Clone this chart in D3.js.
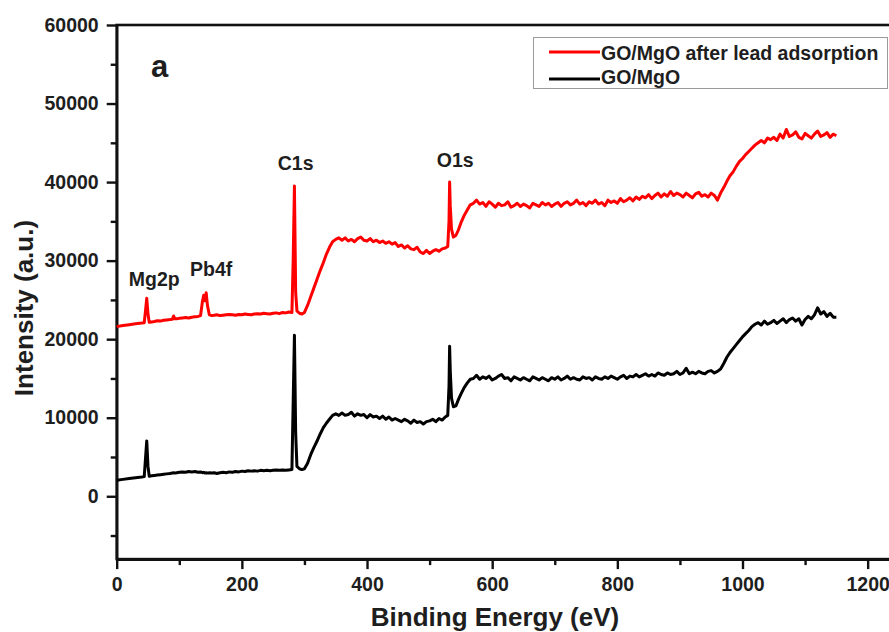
<!DOCTYPE html>
<html>
<head>
<meta charset="utf-8">
<script src="https://cdn.jsdelivr.net/npm/d3@7"></script>
<style>
  html, body { margin: 0; padding: 0; background: #fff; }
  svg { display: block; font-family: "Liberation Sans", Arial, sans-serif; }
</style>
</head>
<body>
<svg id="chart" width="889" height="632"></svg>
<script>
// XPS survey spectra: [binding energy (eV), intensity (a.u.)]
const afterAdsorption = [
  [0,21600],[10,21750],[20,21850],[30,21950],[40,22050],
  [44,22100],[46,23600],[48,25200],[50,23200],[52,22150],
  [56,22200],[60,22250],[65,22350],[70,22300],[75,22400],[80,22450],[85,22500],[89,22550],[91,22950],[93,22600],[96,22600],
  [100,22650],[105,22700],[110,22750],[115,22700],[120,22800],[125,22850],[130,22900],
  [134,23000],[137,24800],[139,25600],[141,24900],[143,25900],[145,24300],[148,23100],
  [152,23000],[156,23050],
  [160,23100],[165,23000],[170,23050],[175,23100],[180,23150],[185,23100],[190,23050],[195,23150],[200,23100],[205,23200],
  [210,23150],[215,23100],[220,23200],[225,23250],[230,23200],[235,23300],[240,23250],[245,23200],[250,23300],[255,23350],
  [260,23250],[265,23400],[270,23350],[275,23450],[280,23400],
  [282,30000],[284,39500],[286,26000],[288,23600],[292,23300],[296,23200],
  [300,23400],[305,24300],[310,25400],[315,26500],[320,27600],[325,28700],[330,29700],[335,30800],[340,31700],[345,32400],
  [350,32700],[355,32900],[360,32600],[365,32900],[370,32500],[375,32700],[380,32400],[385,32800],[390,33000],[395,32600],
  [400,32500],[405,32800],[410,32400],[415,32600],[420,32300],[425,32500],[430,32200],[435,32400],[440,32100],[445,32300],
  [450,31800],[455,32000],[460,31600],[465,31900],[470,31500],[475,31400],[480,31700],[485,31100],[490,30900],[495,31300],
  [500,30900],[505,31200],[510,31400],[515,31200],[520,31500],[525,31600],
  [529,31800],[531,35000],[532,40000],[533,37000],[535,34000],[538,33000],[542,33200],[546,33900],
  [550,34800],[555,35700],[560,36400],[565,37100],[570,37300],[575,37700],[580,37200],[585,37400],[590,36900],[595,37500],
  [600,37200],[605,36800],[610,37300],[615,37000],[620,37100],[625,37500],[630,36800],[635,37000],[640,37300],[645,36900],
  [650,37200],[655,37000],[660,36700],[665,37300],[670,37100],[675,36900],[680,37400],[685,37100],[690,37300],[695,36900],
  [700,37200],[705,37400],[710,36900],[715,37300],[720,37500],[725,37100],[730,37300],[735,37700],[740,37200],[745,37400],
  [750,37000],[755,37500],[760,37300],[765,37700],[770,37200],[775,37400],[780,37000],[785,37700],[790,37400],[795,37600],
  [800,37300],[805,37900],[810,37500],[815,37700],[820,38000],[825,37600],[830,38100],[835,37800],[840,38200],[845,38000],
  [850,38400],[855,37900],[860,38300],[865,38600],[870,38100],[875,38500],[880,38200],[885,38800],[890,38300],[895,38600],
  [900,38400],[905,38100],[910,38600],[915,38300],[920,38000],[925,38500],[930,38700],[935,38200],[940,38400],[945,38100],
  [950,38600],[955,38300],[960,37700],[965,38600],[970,39300],[975,40100],[980,40800],[985,41300],[990,42000],[995,42600],
  [1000,43000],[1005,43500],[1010,43900],[1015,44300],[1020,44700],[1025,45000],[1030,45300],[1035,45000],[1040,45600],[1045,45400],
  [1050,45700],[1055,45300],[1060,46100],[1065,45600],[1070,46700],[1075,45800],[1080,46000],[1085,46400],[1090,45700],[1095,45500],
  [1100,46200],[1105,45900],[1110,45600],[1115,46100],[1120,46500],[1125,45800],[1130,46000],[1135,46300],[1140,45700],[1145,46100],
  [1150,45900]
];

const pristine = [
  [0,2040],[10,2150],[20,2250],[30,2350],[40,2450],
  [44,2500],[46,4800],[48,7050],[50,3800],[52,2550],
  [56,2600],[60,2650],[65,2700],[70,2750],[75,2800],[80,2850],[85,2900],[89,2950],[91,3000],[93,2950],[96,3000],
  [100,3050],[105,3100],[110,3050],[115,3150],[120,3100],[125,3150],[130,3050],
  [134,3100],[137,3000],[139,3050],[141,2950],[143,3000],[145,2950],[148,3000],
  [152,2950],[156,3000],
  [160,2900],[165,3000],[170,3050],[175,3000],[180,3100],[185,3050],[190,3150],[195,3100],[200,3200],[205,3150],
  [210,3250],[215,3200],[220,3250],[225,3200],[230,3300],[235,3250],[240,3300],[245,3250],[250,3300],[255,3350],
  [260,3300],[265,3350],[270,3300],[275,3350],[280,3400],
  [282,12000],[284,20500],[286,8000],[288,3800],[292,3500],[296,3400],
  [300,3500],[305,4200],[310,5300],[315,6200],[320,7000],[325,7900],[330,8700],[335,9300],[340,9800],[345,10300],
  [350,10500],[355,10300],[360,10600],[365,10300],[370,10400],[375,10700],[380,10200],[385,10500],[390,10300],[395,10400],
  [400,10000],[405,10400],[410,10100],[415,10200],[420,9900],[425,10200],[430,9800],[435,10100],[440,9700],[445,9900],
  [450,9700],[455,9500],[460,9800],[465,9600],[470,9300],[475,9700],[480,9400],[485,9500],[490,9200],[495,9500],
  [500,9600],[505,9800],[510,9500],[515,9900],[520,9700],[525,10100],
  [529,10300],[531,14000],[532,19100],[533,16000],[535,12500],[538,11400],[542,11500],[546,12300],
  [550,13000],[555,13800],[560,14400],[565,14900],[570,15000],[575,15400],[580,14900],[585,15200],[590,15000],[595,15300],
  [600,14800],[605,15000],[610,15300],[615,15500],[620,15000],[625,15100],[630,14700],[635,15200],[640,15000],[645,14800],
  [650,15100],[655,14900],[660,14700],[665,15200],[670,15000],[675,14800],[680,15100],[685,14900],[690,14700],[695,15100],
  [700,14900],[705,15200],[710,14800],[715,15000],[720,15300],[725,14900],[730,15100],[735,14900],[740,14800],[745,15200],
  [750,15000],[755,15100],[760,14800],[765,15200],[770,15000],[775,14900],[780,15200],[785,15000],[790,15300],[795,15100],
  [800,14900],[805,15200],[810,15400],[815,15000],[820,15300],[825,15200],[830,15500],[835,15200],[840,15400],[845,15600],
  [850,15300],[855,15500],[860,15300],[865,15700],[870,15500],[875,15400],[880,15700],[885,15500],[890,15600],[895,15900],
  [900,15500],[905,15700],[910,16300],[915,15600],[920,15800],[925,15600],[930,15900],[935,15700],[940,15600],[945,15900],
  [950,16000],[955,15700],[960,15900],[965,16200],[970,16900],[975,17700],[980,18300],[985,18800],[990,19300],[995,19800],
  [1000,20300],[1005,20700],[1010,21100],[1015,21600],[1020,21900],[1025,22100],[1030,21800],[1035,22300],[1040,21900],[1045,22100],
  [1050,22400],[1055,22000],[1060,22300],[1065,22600],[1070,22100],[1075,22500],[1080,22700],[1085,22300],[1090,22600],[1095,21800],
  [1100,22500],[1105,22900],[1110,22600],[1115,23100],[1120,24000],[1125,23200],[1130,23500],[1135,22900],[1140,23300],[1145,22800],
  [1150,22800]
];

const seriesNames = ["GO/MgO after lead adsorption", "GO/MgO"];
const seriesColors = ["#ff0000", "#000000"];

const xTicks = [0, 200, 400, 600, 800, 1000, 1200];
const xMinorTicks = [100, 300, 500, 700, 900, 1100];
const yTicks = [0, 10000, 20000, 30000, 40000, 50000, 60000];
const yMinorTicks = [-5000, 5000, 15000, 25000, 35000, 45000, 55000];

// peak labels: text, energy, intensity of the label baseline
const peakLabels = [
  ["Mg2p", 60, 26800],
  ["Pb4f", 151, 28000],
  ["C1s", 286, 41550],
  ["O1s", 541, 41900]
];

const svg = d3.select("#chart");
const plotLeft = 116.7, plotTop = 25, plotBottom = 559.1;
const x = d3.scaleLinear().domain([0, 1240]).range([plotLeft, plotLeft + 1240 * 0.6258]);
const y = d3.scaleLinear().domain([-8000, 60000]).range([plotBottom, plotTop]);

const textColor = "#1e1e1e";
const fontSize = "19.5px";

// frame (right edge falls just outside the canvas)
svg.append("rect")
  .attr("x", x(0)).attr("y", y(60000))
  .attr("width", x(1240) - x(0)).attr("height", y(-8000) - y(60000))
  .attr("fill", "none").attr("stroke", "#111").attr("stroke-width", 2.6);

function styleAxis(g) {
  g.select(".domain").attr("stroke", "#111").attr("stroke-width", 2.6);
  g.selectAll(".tick line").attr("stroke", "#111").attr("stroke-width", 2.4);
  g.selectAll(".tick text")
    .attr("fill", textColor)
    .style("font-size", fontSize)
    .style("font-weight", "bold")
    .style("font-family", "'Liberation Sans', Arial, sans-serif");
}

// x axis
svg.append("g")
  .attr("transform", `translate(0,${plotBottom})`)
  .call(d3.axisBottom(x).tickValues(xMinorTicks).tickSize(6).tickFormat(""))
  .call(g => { g.select(".domain").remove(); g.selectAll(".tick line").attr("stroke", "#111").attr("stroke-width", 2.4); });
svg.append("g")
  .attr("transform", `translate(0,${plotBottom})`)
  .call(d3.axisBottom(x).tickValues(xTicks).tickSize(10).tickPadding(8).tickFormat(d3.format("d")).tickSizeOuter(0))
  .call(styleAxis);

// y axis
svg.append("g")
  .attr("transform", `translate(${plotLeft},0)`)
  .call(d3.axisLeft(y).tickValues(yMinorTicks).tickSize(6).tickFormat(""))
  .call(g => { g.select(".domain").remove(); g.selectAll(".tick line").attr("stroke", "#111").attr("stroke-width", 2.4); });
svg.append("g")
  .attr("transform", `translate(${plotLeft},0)`)
  .call(d3.axisLeft(y).tickValues(yTicks).tickSize(10).tickPadding(8).tickFormat(d3.format("d")).tickSizeOuter(0))
  .call(styleAxis);

// spectra
const line = d3.line().x(d => x(d[0])).y(d => y(d[1]));
[[pristine, 1], [afterAdsorption, 0]].forEach(([data, idx]) => {
  svg.append("path")
    .datum(data)
    .attr("d", line)
    .attr("fill", "none")
    .attr("stroke", seriesColors[idx])
    .attr("stroke-width", 3)
    .attr("stroke-linejoin", "round");
});

// peak labels
svg.append("g").selectAll("text")
  .data(peakLabels)
  .join("text")
  .attr("x", d => x(d[1]))
  .attr("y", d => y(d[2]))
  .attr("text-anchor", "middle")
  .attr("fill", textColor)
  .style("font-size", fontSize)
  .style("font-weight", "bold")
  .text(d => d[0]);

// panel letter
svg.append("text")
  .attr("x", 151).attr("y", 77)
  .attr("fill", textColor)
  .style("font-size", "31px")
  .style("font-weight", "bold")
  .text("a");

// axis titles
svg.append("text")
  .attr("x", 495).attr("y", 626)
  .attr("text-anchor", "middle")
  .attr("fill", textColor)
  .style("font-size", "26px")
  .style("font-weight", "bold")
  .text("Binding Energy (eV)");

svg.append("text")
  .attr("transform", "translate(33,308) rotate(-90)")
  .attr("text-anchor", "middle")
  .attr("fill", textColor)
  .style("font-size", "26px")
  .style("font-weight", "bold")
  .text("Intensity (a.u.)");

// legend
const legend = svg.append("g");
legend.append("rect")
  .attr("x", 533.5).attr("y", 37.5).attr("width", 354).attr("height", 51)
  .attr("fill", "#fff").attr("stroke", "#9a9a9a").attr("stroke-width", 1);
seriesNames.forEach((name, i) => {
  const ly = [52, 79][i];
  legend.append("line")
    .attr("x1", 549).attr("x2", 600).attr("y1", ly).attr("y2", ly)
    .attr("stroke", seriesColors[i]).attr("stroke-width", 3);
  legend.append("text")
    .attr("x", 601).attr("y", [60, 84][i])
    .attr("fill", textColor)
    .style("font-size", fontSize)
    .style("font-weight", "bold")
    .text(name);
});
</script>
</body>
</html>
